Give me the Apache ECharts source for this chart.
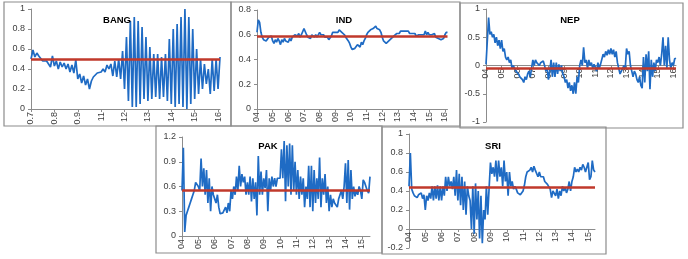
<!DOCTYPE html>
<html>
<head>
<meta charset="utf-8">
<script src="https://cdn.jsdelivr.net/npm/echarts@6/dist/echarts.min.js"></script>
<style>
  html, body { margin: 0; padding: 0; background: #fff; }
  #chart { width: 688px; height: 259px; }
</style>
</head>
<body>
<div id="chart"></div>
<script>
// tick labels (one per 12 points)
const bangTicks = ['0.7', '0.8', '0.9', '11', '12', '13', '14', '15', '16']
const yearTicks16 = ['04', '05', '06', '07', '08', '09', '10', '11', '12', '13', '14', '15', '16']
const yearTicks15 = ['04', '05', '06', '07', '08', '09', '10', '11', '12', '13', '14', '15']

// series values, one row per year
const bangValues = [
    0.5, 0.59, 0.52, 0.56, 0.53, 0.55, 0.48, 0.5, 0.48, 0.49, 0.42, 0.53,
    0.43, 0.48, 0.4, 0.47, 0.42, 0.46, 0.4, 0.45, 0.37, 0.44, 0.36, 0.49,
    0.3, 0.35, 0.26, 0.33, 0.24, 0.3, 0.2, 0.28, 0.32, 0.3, 0.36, 0.38,
    0.37, 0.4, 0.37, 0.44, 0.4, 0.45, 0.33, 0.48, 0.32, 0.5, 0.3, 0.58,
    0.2, 0.72, 0.08, 0.88, 0.02, 0.92, 0.02, 0.88, 0.05, 0.82, 0.1, 0.72,
    0.08, 0.62, 0.1, 0.55, 0.12, 0.55, 0.1, 0.52, 0.12, 0.55, 0.08, 0.7,
    0.05, 0.8, 0.02, 0.85, 0.05, 0.92, 0.02, 1.0, 0.0, 0.92, 0.05, 0.8,
    0.1, 0.6, 0.15, 0.5, 0.2, 0.45, 0.25, 0.4, 0.15, 0.5, 0.18, 0.5,
    0.2, 0.52
]
const indValues = [
    0.62, 0.72, 0.7, 0.62, 0.58, 0.56, 0.57, 0.55, 0.56, 0.58, 0.57, 0.59,
    0.55, 0.53, 0.56, 0.54, 0.57, 0.55, 0.52, 0.56, 0.54, 0.57, 0.55, 0.56,
    0.54, 0.57, 0.55, 0.58, 0.57, 0.6, 0.6, 0.59, 0.61, 0.58, 0.6, 0.59,
    0.65, 0.64, 0.6, 0.58, 0.59, 0.57, 0.6, 0.59, 0.58, 0.6, 0.58, 0.59,
    0.62, 0.6, 0.59, 0.6, 0.58, 0.57, 0.58, 0.56, 0.57, 0.59, 0.62, 0.61,
    0.62, 0.63, 0.62, 0.64, 0.63, 0.62, 0.63, 0.6, 0.58, 0.57, 0.55, 0.53,
    0.5, 0.48, 0.47, 0.49, 0.5, 0.52, 0.53, 0.5, 0.54, 0.52, 0.55, 0.57,
    0.6, 0.62, 0.63, 0.64, 0.63, 0.65, 0.64, 0.67, 0.65, 0.66, 0.64, 0.62,
    0.58, 0.55, 0.54, 0.53, 0.54, 0.55, 0.56, 0.57, 0.58, 0.59, 0.6, 0.61,
    0.62, 0.61, 0.63, 0.64, 0.63, 0.64, 0.63, 0.62, 0.63, 0.61, 0.62, 0.61,
    0.6, 0.61, 0.59, 0.58, 0.6, 0.59, 0.6, 0.61, 0.6, 0.63, 0.6, 0.62,
    0.6, 0.61, 0.6, 0.59, 0.61, 0.58, 0.59, 0.57, 0.56, 0.56, 0.55, 0.57,
    0.6, 0.62, 0.62
]
const nepValues = [
    0.02, 0.05, 0.85, 0.55, 0.6, 0.5, 0.55, 0.4, 0.5, 0.35, 0.45, 0.3,
    0.45, 0.25, 0.3, 0.15, 0.1, 0.15, 0.05, 0.1, -0.05, 0.0, -0.05, -0.1,
    -0.1, -0.15, -0.2, -0.2, -0.25, -0.3, -0.2, -0.25, -0.15, -0.1, -0.2, -0.05,
    0.1, 0.0, 0.1, 0.05, 0.08, 0.0, 0.05, 0.02, 0.08, 0.0, -0.1, -0.05,
    -0.25, -0.1, 0.1, -0.2, 0.05, -0.2, 0.05, -0.15, 0.02, -0.1, 0.0, -0.15,
    -0.2, -0.3, -0.25, -0.4, -0.3, -0.45, -0.35, -0.5, -0.3, -0.5, -0.2, -0.3,
    0.0, 0.1, 0.0, 0.32, 0.05, 0.1, -0.05, 0.1, 0.0, 0.05, -0.05, 0.02,
    0.0, -0.1, 0.05, -0.05, 0.02, 0.0, 0.2, 0.15, 0.25, 0.18, 0.28, 0.2,
    0.3, 0.2, 0.28, 0.15, 0.25, 0.05, -0.05, -0.15, -0.1, -0.05, 0.0, -0.05,
    0.3, 0.2, 0.25, 0.0, -0.1, -0.2, -0.1, -0.15, -0.25, -0.3, -0.2, -0.35,
    -0.4, 0.15, -0.3, 0.2, -0.1, 0.25, -0.42, 0.1, -0.2, 0.05, -0.1, 0.1,
    0.05, 0.15, 0.0, 0.2, 0.5, 0.0, 0.35, -0.05, 0.5, 0.1, -0.05, 0.05,
    0.0, 0.12, 0.13
]
const pakValues = [
    0.55, 1.07, 0.05, 0.25, 0.3, 0.35, 0.4, 0.45, 0.5, 0.55, 0.65, 0.63,
    0.6, 0.55, 0.94, 0.6, 0.82, 0.5, 0.8, 0.4, 0.7, 0.3, 0.6, 0.5,
    0.45, 0.4, 0.5, 0.35, 0.27, 0.27, 0.28, 0.3, 0.35, 0.28, 0.4, 0.3,
    0.55, 0.45, 0.6, 0.5, 0.72, 0.55, 0.85, 0.6, 0.75, 0.65, 0.72, 0.5,
    0.65, 0.5, 0.72, 0.42, 0.7, 0.45, 0.65, 0.25, 0.97, 0.5, 0.78, 0.5,
    0.7, 0.58, 0.8, 0.3, 0.7, 0.55, 0.72, 0.6, 0.7, 0.6, 0.7, 0.68,
    0.7, 1.05, 0.7, 1.15, 0.42, 1.1, 0.6, 1.12, 0.5, 1.1, 0.55, 0.9,
    0.5, 0.8, 0.45, 0.72, 0.5, 0.7, 0.35, 0.6, 0.45, 0.85, 0.35, 0.85,
    0.3, 0.8, 0.4, 0.7, 0.45, 0.95, 0.35, 0.7, 0.5, 0.75, 0.4, 0.6,
    0.3, 0.5, 0.35, 0.45, 0.4, 0.42, 0.35, 0.45, 0.5, 0.55, 0.45, 0.6,
    0.88, 0.4, 0.92, 0.32, 0.8, 0.45, 0.6, 0.48, 0.55, 0.5, 0.6, 0.55,
    0.45, 0.68, 0.65, 0.6, 0.55, 0.52, 0.72
]
const sriValues = [
    0.45, 0.8, 0.42, 0.38, 0.35, 0.37, 0.33, 0.36, 0.34, 0.38, 0.32, 0.36,
    0.2, 0.35, 0.3, 0.38, 0.32, 0.45, 0.3, 0.45, 0.32, 0.46, 0.3, 0.45,
    0.3, 0.45, 0.35, 0.55, 0.4, 0.55, 0.45, 0.5, 0.42, 0.55, 0.35, 0.62,
    0.3, 0.58, 0.25, 0.55, 0.2, 0.5, 0.15, 0.45, 0.35, 0.3, 0.0, 0.45,
    -0.05, 0.48, 0.1, 0.4, -0.1, 0.35, -0.15, 0.2, 0.1, 0.45, 0.15, 0.43,
    0.7, 0.58, 0.65, 0.55, 0.72, 0.5, 0.72, 0.55, 0.65, 0.45, 0.72, 0.5,
    0.6, 0.35, 0.6, 0.45, 0.5, 0.42, 0.45, 0.42, 0.38, 0.4, 0.36, 0.38,
    0.4, 0.46, 0.55, 0.6, 0.58, 0.62, 0.65, 0.6, 0.66, 0.62, 0.6, 0.55,
    0.6, 0.55, 0.53, 0.55, 0.5, 0.48, 0.47, 0.45, 0.42, 0.33, 0.4, 0.38,
    0.35, 0.42, 0.32, 0.4, 0.35, 0.45, 0.4, 0.44, 0.38, 0.42, 0.5, 0.4,
    0.5, 0.55, 0.65, 0.6, 0.63, 0.6, 0.65, 0.62, 0.68, 0.65, 0.6, 0.62,
    0.7, 0.52, 0.55, 0.72, 0.62, 0.6
]

// red reference levels
const bangMean = 0.5
const indMean = 0.59
const nepMean = -0.05
const pakMean = 0.55
const sriMean = 0.44

const panels = [
    { name: 'BANG', values: bangValues, ticks: bangTicks, mean: bangMean, min: 0, max: 1, step: 0.2,
      box: [4, 2, 227, 124], grid: { left: 31, top: 9, width: 189, height: 100 }, title: [117, 20] },
    { name: 'IND', values: indValues, ticks: yearTicks16, mean: indMean, min: 0, max: 0.8, step: 0.2,
      box: [231, 2, 229, 124], grid: { left: 257, top: 10, width: 190.5, height: 99 }, title: [344, 20] },
    { name: 'NEP', values: nepValues, ticks: yearTicks16, mean: nepMean, min: -1, max: 1, step: 0.5,
      box: [460, 3, 223, 125], grid: { left: 486, top: 9, width: 190, height: 113 }, title: [570, 20] },
    { name: 'PAK', values: pakValues, ticks: yearTicks15, mean: pakMean, min: 0, max: 1.2, step: 0.3,
      box: [156, 126, 226, 127], grid: { left: 182, top: 137, width: 188, height: 99 }, title: [268, 146] },
    { name: 'SRI', values: sriValues, ticks: yearTicks15, mean: sriMean, min: -0.2, max: 1, step: 0.2,
      box: [382, 127, 224, 127], grid: { left: 409, top: 134, width: 186, height: 114 }, title: [493, 146] }
]

const font = "'Liberation Sans', Arial, sans-serif"
const chart = echarts.init(document.getElementById('chart'))

const option = {
    animation: false,
    grid: [], xAxis: [], yAxis: [], series: [], graphic: []
}

panels.forEach((p, i) => {
    // category axis sits on the zero line, like the spreadsheet original
    const zeroShift = p.min < 0 ? -(0 - p.min) / (p.max - p.min) * p.grid.height : 0
    option.grid.push(p.grid)
    option.xAxis.push({
        type: 'category',
        gridIndex: i,
        boundaryGap: false,
        offset: zeroShift,
        data: p.values.map((v, k) => String(k)),
        axisLine: { onZero: false, lineStyle: { color: '#8c8c8c', width: 1 } },
        axisTick: { interval: 11, length: 3, lineStyle: { color: '#8c8c8c' } },
        axisLabel: {
            interval: 11,
            rotate: 90,
            margin: 3,
            fontSize: 9,
            fontFamily: font,
            color: '#404040',
            formatter: (val, idx) => p.ticks[idx / 12] || ''
        },
        splitLine: { show: false }
    })
    option.yAxis.push({
        type: 'value',
        gridIndex: i,
        min: p.min,
        max: p.max,
        interval: p.step,
        axisLine: { show: true, lineStyle: { color: '#8c8c8c', width: 1 } },
        axisTick: { show: true, length: 3, lineStyle: { color: '#8c8c8c' } },
        axisLabel: { fontSize: 9, fontFamily: font, color: '#404040', margin: 6 },
        splitLine: { show: false }
    })
    option.series.push({
        name: p.name,
        type: 'line',
        xAxisIndex: i,
        yAxisIndex: i,
        data: p.values,
        symbol: 'none',
        lineStyle: { color: '#1f6bc4', width: 1.7 },
        markLine: {
            silent: true,
            symbol: 'none',
            label: { show: false },
            lineStyle: { color: '#c0392b', width: 2.5, type: 'solid' },
            data: [{ yAxis: p.mean }]
        },
        z: 3
    })
    option.graphic.push({
        type: 'rect',
        shape: { x: p.box[0], y: p.box[1], width: p.box[2], height: p.box[3] },
        style: { fill: 'none', stroke: '#8c8c8c', lineWidth: 1.2 },
        z: 0
    })
    option.graphic.push({
        type: 'text',
        x: p.title[0],
        y: p.title[1],
        style: {
            text: p.name,
            fill: '#000',
            font: 'bold 9.5px ' + font,
            textAlign: 'center',
            textVerticalAlign: 'middle'
        },
        z: 10
    })
})

chart.setOption(option)
</script>
</body>
</html>
